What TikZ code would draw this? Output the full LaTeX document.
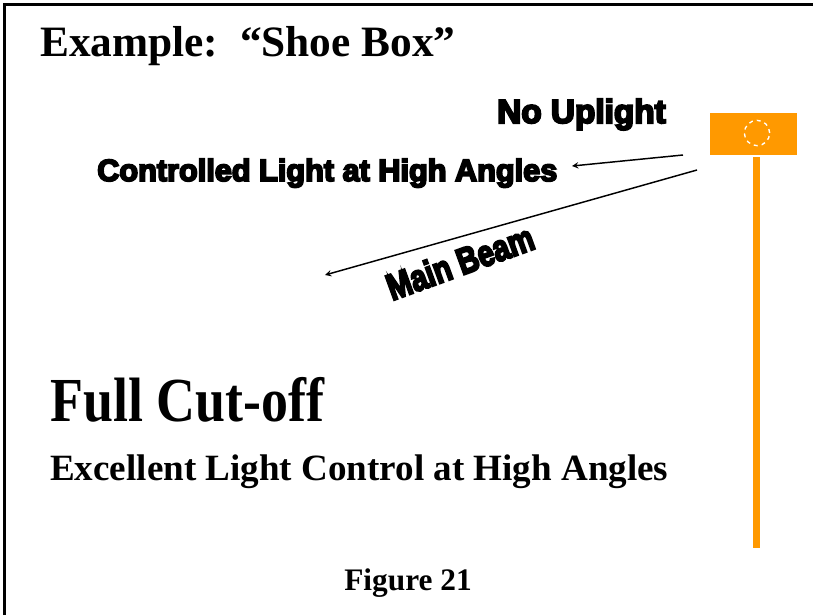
\documentclass[tikz,border=0pt]{standalone}
\usepackage{fontspec}
\setmainfont{Liberation Serif}
\newfontfamily\heavyfont[FakeBold=6]{Liberation Sans Bold}
\usetikzlibrary{calc}
\definecolor{lamporange}{RGB}{255,153,0}
\tikzstyle{heading} = [anchor=base west, inner sep=0pt, font=\bfseries\fontsize{32.5}{38}\selectfont]
\tikzstyle{callout} = [anchor=base west, inner sep=0pt, font=\heavyfont\fontsize{23}{27}\selectfont]
\tikzstyle{lamp} = [rectangle, minimum width=65pt, minimum height=31.5pt, inner sep=0pt, fill=lamporange]
\tikzstyle{arrow} = [line width=1.1pt,->,>=stealth]

\begin{document}
\begin{tikzpicture}[x=0.75pt,y=-0.75pt]
  \useasboundingbox (0,0) rectangle (813,615);
  \draw [line width=2.3pt] (4.5,615) -- (4.5,4.5) -- (813,4.5);
  % texts
  \node (title)[heading] at (40,56) {Example:\ \ ``Shoe Box''};
  \node (uplight)[callout, font=\heavyfont\fontsize{25}{30}\selectfont] at (497,123) {No Uplight};
  \node (controlled)[callout] at (97,181) {Controlled Light at High Angles};
  \node (beam)[callout, anchor=center, rotate=20] at (460,262) {\scalebox{0.95}[1.2]{Main Beam}};
  \node (fullcut)[heading, font=\bfseries\fontsize{47}{54}\selectfont] at (50,421) {\scalebox{0.86}[1]{Full Cut-off}};
  \node (excellent)[heading, font=\bfseries\fontsize{27.8}{32}\selectfont] at (50,480) {Excellent Light Control at High Angles};
  \node (fig)[heading, anchor=base, font=\bfseries\fontsize{23.5}{28}\selectfont] at (408,590) {Figure 21};
  % luminaire
  \node (lamp)[lamp] at (753.5,134) {};
  \node (bulb)[circle, draw=white, dashed, line width=1pt, minimum size=19pt, inner sep=0pt] at (757,133) {};
  \node (pole)[rectangle, fill=lamporange, minimum width=5.3pt, minimum height=293pt, inner sep=0pt, anchor=north] at (756.5,157) {};
  % rays
  \coordinate (src1) at (683,155);
  \coordinate (src2) at (697,170);
  \coordinate (tip1) at (572,166);
  \coordinate (tip2) at (325,275);
  \draw [arrow] (src1) -- (tip1);
  \draw [arrow] (src2) -- (tip2);
\end{tikzpicture}
\end{document}
